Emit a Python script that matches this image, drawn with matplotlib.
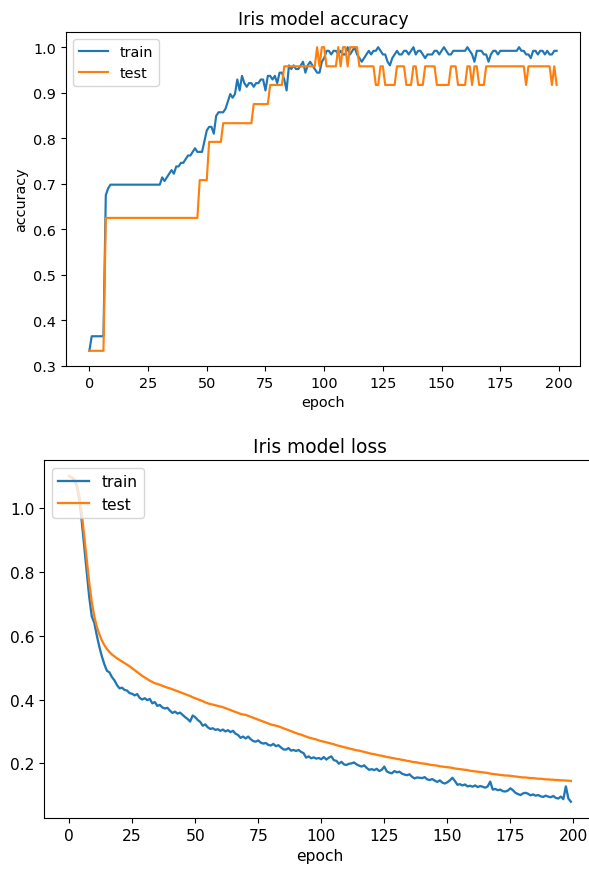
import matplotlib
matplotlib.use("Agg")
import matplotlib.pyplot as plt

epochs = list(range(200))

acc_train = [
    0.333, 0.365, 0.365, 0.365, 0.365, 0.365, 0.365, 0.675, 0.690, 0.698,
    0.698, 0.698, 0.698, 0.698, 0.698, 0.698, 0.698, 0.698, 0.698, 0.698,
    0.698, 0.698, 0.698, 0.698, 0.698, 0.698, 0.698, 0.698, 0.698, 0.698,
    0.698, 0.714, 0.706, 0.714, 0.722, 0.730, 0.722, 0.738, 0.738, 0.746,
    0.746, 0.754, 0.762, 0.762, 0.770, 0.778, 0.770, 0.770, 0.770, 0.794,
    0.817, 0.825, 0.825, 0.810, 0.849, 0.857, 0.857, 0.857, 0.865, 0.881,
    0.897, 0.889, 0.897, 0.929, 0.905, 0.937, 0.921, 0.913, 0.921, 0.921,
    0.913, 0.921, 0.921, 0.929, 0.929, 0.905, 0.937, 0.937, 0.929, 0.937,
    0.921, 0.944, 0.944, 0.929, 0.905, 0.960, 0.952, 0.960, 0.952, 0.952,
    0.960, 0.968, 0.944, 0.960, 0.968, 0.960, 0.952, 0.944, 0.944, 0.968,
    0.976, 0.992, 0.992, 0.984, 0.992, 0.992, 0.984, 0.992, 0.984, 0.984,
    1.000, 0.984, 0.992, 1.000, 0.984, 0.976, 0.968, 0.976, 0.984, 0.992,
    0.984, 0.992, 0.992, 1.000, 0.992, 0.984, 0.984, 0.968, 0.960, 0.976,
    0.984, 0.992, 0.984, 0.984, 0.992, 0.992, 0.984, 0.992, 1.000, 0.984,
    0.992, 0.992, 0.984, 0.976, 0.984, 0.984, 0.984, 0.992, 0.992, 0.984,
    0.992, 1.000, 0.992, 0.984, 0.984, 0.992, 0.992, 0.992, 0.992, 0.992,
    0.992, 1.000, 0.992, 0.984, 0.968, 0.992, 0.992, 0.992, 0.984, 0.984,
    0.968, 0.984, 0.992, 0.992, 0.984, 0.992, 0.992, 0.992, 0.992, 0.992,
    0.992, 0.992, 0.992, 1.000, 0.992, 0.992, 0.984, 0.984, 0.976, 0.992,
    0.992, 0.984, 0.992, 0.992, 0.984, 0.992, 0.984, 0.984, 0.992, 0.992,
]

acc_test = [
    0.333, 0.333, 0.333, 0.333, 0.333, 0.333, 0.333, 0.625, 0.625, 0.625,
    0.625, 0.625, 0.625, 0.625, 0.625, 0.625, 0.625, 0.625, 0.625, 0.625,
    0.625, 0.625, 0.625, 0.625, 0.625, 0.625, 0.625, 0.625, 0.625, 0.625,
    0.625, 0.625, 0.625, 0.625, 0.625, 0.625, 0.625, 0.625, 0.625, 0.625,
    0.625, 0.625, 0.625, 0.625, 0.625, 0.625, 0.625, 0.708, 0.708, 0.708,
    0.708, 0.792, 0.792, 0.792, 0.792, 0.792, 0.792, 0.833, 0.833, 0.833,
    0.833, 0.833, 0.833, 0.833, 0.833, 0.833, 0.833, 0.833, 0.833, 0.833,
    0.875, 0.875, 0.875, 0.875, 0.875, 0.875, 0.875, 0.917, 0.917, 0.917,
    0.917, 0.917, 0.917, 0.958, 0.958, 0.958, 0.958, 0.958, 0.958, 0.958,
    0.958, 0.958, 0.958, 0.958, 0.958, 0.958, 0.958, 1.000, 0.958, 1.000,
    1.000, 0.958, 0.958, 0.958, 0.958, 0.958, 1.000, 0.958, 1.000, 1.000,
    0.958, 1.000, 1.000, 1.000, 1.000, 0.958, 0.958, 0.958, 0.958, 0.958,
    0.958, 0.958, 0.917, 0.917, 0.958, 0.958, 0.917, 0.917, 0.917, 0.917,
    0.917, 0.958, 0.958, 0.958, 0.958, 0.917, 0.917, 0.917, 0.958, 0.958,
    0.917, 0.917, 0.917, 0.958, 0.958, 0.958, 0.958, 0.958, 0.917, 0.917,
    0.917, 0.917, 0.917, 0.917, 0.958, 0.958, 0.958, 0.917, 0.917, 0.917,
    0.917, 0.958, 0.958, 0.917, 0.958, 0.958, 0.917, 0.917, 0.917, 0.958,
    0.958, 0.958, 0.958, 0.958, 0.958, 0.958, 0.958, 0.958, 0.958, 0.958,
    0.958, 0.958, 0.958, 0.958, 0.958, 0.958, 0.917, 0.958, 0.958, 0.958,
    0.958, 0.958, 0.958, 0.958, 0.958, 0.958, 0.958, 0.917, 0.958, 0.917,
]

loss_train = [
    1.099, 1.096, 1.088, 1.070, 1.030, 0.960, 0.880, 0.800, 0.720, 0.660,
    0.640, 0.600, 0.565, 0.535, 0.510, 0.490, 0.485, 0.470, 0.460, 0.445,
    0.435, 0.437, 0.430, 0.428, 0.420, 0.418, 0.413, 0.417, 0.405, 0.400,
    0.404, 0.398, 0.402, 0.388, 0.392, 0.380, 0.383, 0.375, 0.372, 0.374,
    0.365, 0.358, 0.362, 0.356, 0.359, 0.352, 0.345, 0.339, 0.331, 0.350,
    0.345, 0.336, 0.330, 0.318, 0.322, 0.313, 0.308, 0.310, 0.305, 0.307,
    0.302, 0.306, 0.300, 0.304, 0.298, 0.302, 0.293, 0.289, 0.280, 0.284,
    0.278, 0.284, 0.276, 0.270, 0.268, 0.272, 0.265, 0.262, 0.264, 0.258,
    0.256, 0.261, 0.254, 0.257, 0.250, 0.244, 0.243, 0.248, 0.240, 0.242,
    0.239, 0.242, 0.236, 0.232, 0.218, 0.222, 0.216, 0.219, 0.215, 0.217,
    0.213, 0.220, 0.212, 0.218, 0.222, 0.210, 0.208, 0.199, 0.205, 0.197,
    0.195, 0.199, 0.200, 0.203, 0.197, 0.193, 0.190, 0.194, 0.186, 0.180,
    0.182, 0.179, 0.183, 0.176, 0.180, 0.190, 0.175, 0.171, 0.169, 0.176,
    0.172, 0.174, 0.168, 0.165, 0.163, 0.166, 0.158, 0.153, 0.156, 0.155,
    0.154, 0.157, 0.150, 0.148, 0.151, 0.146, 0.142, 0.147, 0.140, 0.137,
    0.141, 0.147, 0.155, 0.145, 0.133, 0.135, 0.131, 0.134, 0.128, 0.130,
    0.127, 0.131, 0.126, 0.129, 0.127, 0.124, 0.128, 0.143, 0.118, 0.120,
    0.116, 0.118, 0.113, 0.112, 0.115, 0.122, 0.116, 0.108, 0.104, 0.101,
    0.106, 0.108, 0.105, 0.100, 0.103, 0.099, 0.101, 0.097, 0.095, 0.099,
    0.096, 0.094, 0.098, 0.092, 0.090, 0.096, 0.088, 0.128, 0.090, 0.080,
]

loss_test = [
    1.099, 1.097, 1.090, 1.075, 1.040, 0.985, 0.910, 0.838, 0.765, 0.705,
    0.660, 0.628, 0.604, 0.585, 0.570, 0.558, 0.549, 0.541, 0.535, 0.529,
    0.524, 0.519, 0.514, 0.509, 0.504, 0.498, 0.492, 0.486, 0.480, 0.474,
    0.469, 0.464, 0.459, 0.455, 0.451, 0.449, 0.446, 0.443, 0.440, 0.437,
    0.435, 0.432, 0.429, 0.426, 0.423, 0.420, 0.417, 0.414, 0.411, 0.407,
    0.404, 0.401, 0.398, 0.395, 0.391, 0.388, 0.386, 0.384, 0.382, 0.380,
    0.378, 0.376, 0.373, 0.370, 0.367, 0.364, 0.361, 0.358, 0.355, 0.353,
    0.352, 0.349, 0.346, 0.343, 0.340, 0.337, 0.334, 0.331, 0.328, 0.325,
    0.322, 0.320, 0.318, 0.316, 0.313, 0.310, 0.307, 0.304, 0.301, 0.298,
    0.295, 0.292, 0.290, 0.287, 0.284, 0.281, 0.279, 0.277, 0.275, 0.272,
    0.270, 0.268, 0.266, 0.264, 0.262, 0.260, 0.257, 0.255, 0.253, 0.251,
    0.249, 0.247, 0.245, 0.243, 0.241, 0.240, 0.238, 0.236, 0.234, 0.232,
    0.230, 0.229, 0.227, 0.225, 0.224, 0.222, 0.220, 0.219, 0.217, 0.216,
    0.214, 0.213, 0.211, 0.210, 0.208, 0.207, 0.205, 0.204, 0.203, 0.201,
    0.200, 0.199, 0.198, 0.196, 0.195, 0.194, 0.193, 0.191, 0.190, 0.189,
    0.188, 0.187, 0.186, 0.184, 0.183, 0.182, 0.181, 0.180, 0.179, 0.177,
    0.176, 0.175, 0.174, 0.173, 0.172, 0.171, 0.170, 0.168, 0.167, 0.166,
    0.165, 0.164, 0.163, 0.162, 0.162, 0.161, 0.160, 0.159, 0.158, 0.157,
    0.156, 0.156, 0.155, 0.154, 0.154, 0.153, 0.152, 0.152, 0.151, 0.150,
    0.150, 0.149, 0.149, 0.148, 0.148, 0.147, 0.147, 0.146, 0.146, 0.145,
]

series_labels = ["train", "test"]
xticks = [0, 25, 50, 75, 100, 125, 150, 175, 200]

W, H = 589, 870
fig = plt.figure(figsize=(W / 100, H / 100), dpi=100)

# Top: accuracy
ax1 = fig.add_axes([66 / W, 1 - 367 / H, (580 - 66) / W, (367 - 33) / H])
ax1.plot(epochs, acc_train, color="#1f77b4", lw=1.55, label=series_labels[0])
ax1.plot(epochs, acc_test, color="#ff7f0e", lw=1.55, label=series_labels[1])
ax1.set_title("Iris model accuracy", fontsize=12.5)
ax1.set_ylabel("accuracy", fontsize=10.4)
ax1.set_xlabel("epoch", fontsize=10.4)
ax1.set_xticks(xticks)
ax1.set_yticks([0.3, 0.4, 0.5, 0.6, 0.7, 0.8, 0.9, 1.0])
ax1.tick_params(labelsize=10.4)
ax1.legend(loc="upper left", fontsize=10.4)

# Bottom: loss (wider, right edge cropped)
ax2 = fig.add_axes([44 / W, 1 - 819 / H, (596 - 44) / W, (819 - 461) / H])
ax2.plot(epochs, loss_train, color="#1f77b4", lw=1.65, label=series_labels[0])
ax2.plot(epochs, loss_test, color="#ff7f0e", lw=1.65, label=series_labels[1])
ax2.set_title("Iris model loss", fontsize=13.4)
ax2.set_xlabel("epoch", fontsize=11.2)
ax2.set_xticks(xticks)
ax2.set_yticks([0.2, 0.4, 0.6, 0.8, 1.0])
ax2.tick_params(labelsize=11.2)
ax2.legend(loc="upper left", fontsize=11.2)

fig.savefig("out.png", dpi=100)
